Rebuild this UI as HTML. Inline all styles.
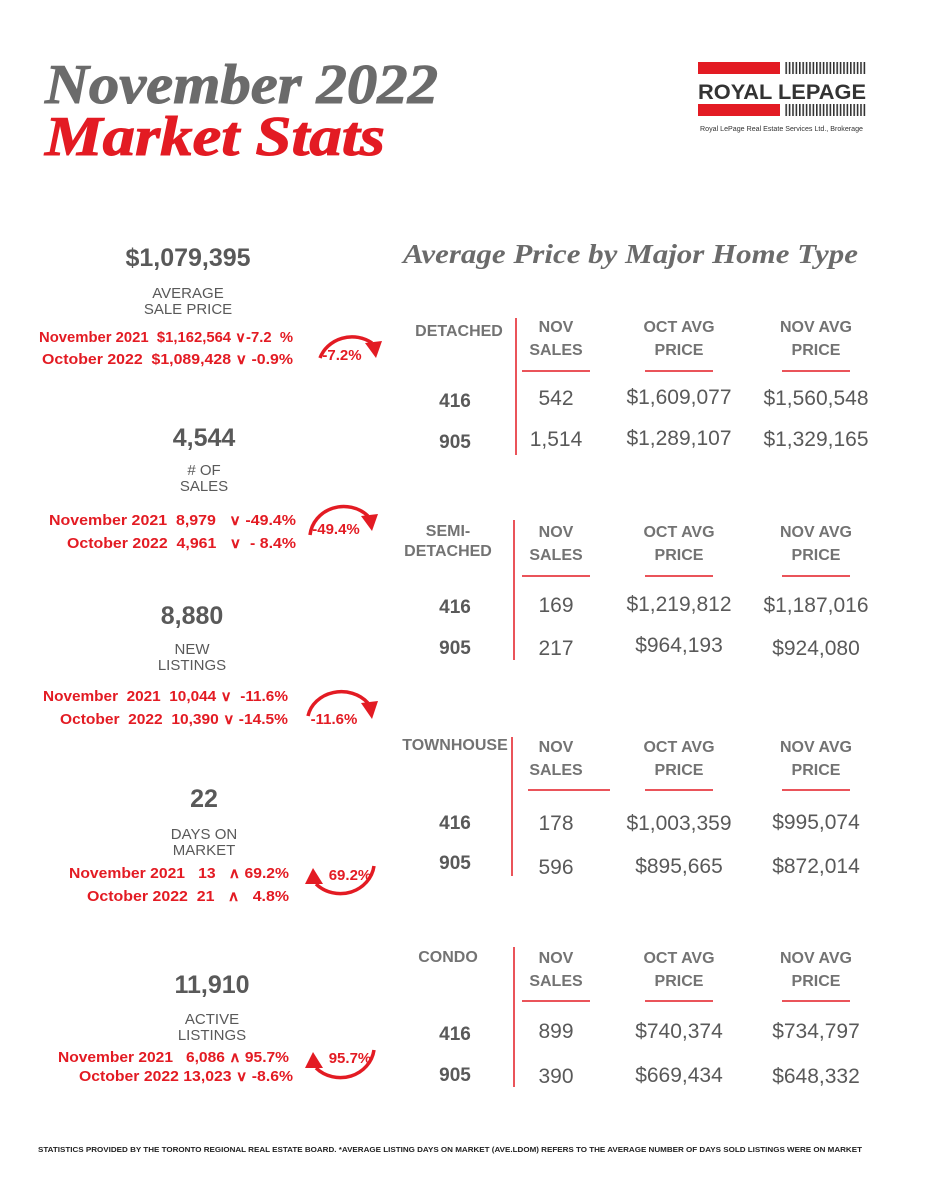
<!DOCTYPE html>
<html><head><meta charset="utf-8"><style>
html,body{margin:0;padding:0;background:#fff}
svg{display:block}
text{font-family:"Liberation Sans",sans-serif;white-space:pre}
.t{font-family:"Liberation Serif",serif;font-style:italic;font-weight:bold}
.big{font-size:25px;font-weight:bold;fill:#595959}
.lab{font-size:15px;fill:#595959}
.red{font-size:14.5px;font-weight:bold;fill:#e31b23}
.hd{font-size:16px;font-weight:bold;fill:#737373}
.rk{font-size:19px;font-weight:bold;fill:#595959}
.v{font-size:21px;fill:#595959}
.pc{font-size:15px;font-weight:bold;fill:#e31b23}
</style></head><body>
<svg width="927" height="1200" viewBox="0 0 927 1200" xml:space="preserve">
<rect width="927" height="1200" fill="#fff"/>
<text class="t" x="45" y="103" font-size="56" fill="#6b6b6b" textLength="393" lengthAdjust="spacingAndGlyphs" stroke="#6b6b6b" stroke-width="1">November 2022</text>
<text class="t" x="45" y="155" font-size="56" fill="#e31b23" textLength="340" lengthAdjust="spacingAndGlyphs" stroke="#e31b23" stroke-width="1">Market Stats</text>

<g>
<defs><pattern id="st" width="3.4" height="12" patternUnits="userSpaceOnUse"><rect width="1.6" height="12" fill="#333"/></pattern></defs>
<rect x="698" y="62" width="82" height="12" fill="#e31b23"/>
<rect x="698" y="104" width="82" height="12" fill="#e31b23"/>
<rect x="785" y="62" width="81" height="12" fill="url(#st)"/>
<rect x="785" y="104" width="81" height="12" fill="url(#st)"/>
<text x="698" y="99" font-size="21" font-weight="bold" fill="#333" textLength="168" lengthAdjust="spacingAndGlyphs">ROYAL LEPAGE</text>
<text x="700" y="131" font-size="7" fill="#333" textLength="163" lengthAdjust="spacingAndGlyphs">Royal LePage Real Estate Services Ltd., Brokerage</text>
</g>

<text class="t" x="403" y="263" font-size="27" fill="#6b6b6b" textLength="455" lengthAdjust="spacingAndGlyphs">Average Price by Major Home Type</text>

<g text-anchor="middle">
<text class="big" x="188" y="266">$1,079,395</text>
<text class="lab" x="188" y="298">AVERAGE</text>
<text class="lab" x="188" y="314">SALE PRICE</text>
<text class="big" x="204" y="446">4,544</text>
<text class="lab" x="204" y="475"># OF</text>
<text class="lab" x="204" y="491">SALES</text>
<text class="big" x="192" y="624">8,880</text>
<text class="lab" x="192" y="654">NEW</text>
<text class="lab" x="192" y="670">LISTINGS</text>
<text class="big" x="204" y="807">22</text>
<text class="lab" x="204" y="839">DAYS ON</text>
<text class="lab" x="204" y="855">MARKET</text>
<text class="big" x="212" y="993">11,910</text>
<text class="lab" x="212" y="1024">ACTIVE</text>
<text class="lab" x="212" y="1040">LISTINGS</text>
</g>
<g text-anchor="end">
<text class="red" x="293" y="342" textLength="254" lengthAdjust="spacingAndGlyphs">November 2021  $1,162,564 ∨-7.2  %</text>
<text class="red" x="293" y="364" textLength="251" lengthAdjust="spacingAndGlyphs">October 2022  $1,089,428 ∨ -0.9%</text>
<text class="red" x="296" y="525" textLength="247" lengthAdjust="spacingAndGlyphs">November 2021  8,979   ∨ -49.4%</text>
<text class="red" x="296" y="548" textLength="229" lengthAdjust="spacingAndGlyphs">October 2022  4,961   ∨  - 8.4%</text>
<text class="red" x="288" y="701" textLength="245" lengthAdjust="spacingAndGlyphs">November  2021  10,044 ∨  -11.6%</text>
<text class="red" x="288" y="724" textLength="228" lengthAdjust="spacingAndGlyphs">October  2022  10,390 ∨ -14.5%</text>
<text class="red" x="289" y="878" textLength="220" lengthAdjust="spacingAndGlyphs">November 2021   13   ∧ 69.2%</text>
<text class="red" x="289" y="901" textLength="202" lengthAdjust="spacingAndGlyphs">October 2022  21   ∧   4.8%</text>
<text class="red" x="289" y="1062" textLength="231" lengthAdjust="spacingAndGlyphs">November 2021   6,086 ∧ 95.7%</text>
<text class="red" x="293" y="1081" textLength="214" lengthAdjust="spacingAndGlyphs">October 2022 13,023 ∨ -8.6%</text>
</g>

<g fill="none" stroke="#e31b23" stroke-width="3.5">
<path d="M320,358 A34,32 0 0 1 372,343"/>
<path d="M310,535 A34,32 0 0 1 368,516"/>
<path d="M308,716 A34,30 0 0 1 368,703"/>
<path d="M374,866 A34,32 0 0 1 316,884"/>
<path d="M374,1050 A34,32 0 0 1 316,1068"/>
</g>
<g fill="#e31b23">
<polygon points="365,343 382,341 376,358"/>
<polygon points="361,516 378,514 372,531"/>
<polygon points="361,703 378,701 372,719"/>
<polygon points="305,884 323,884 313,868"/>
<polygon points="305,1068 323,1068 313,1052"/>
</g>
<g text-anchor="middle">
<text class="pc" x="342" y="360">-7.2%</text>
<text class="pc" x="336" y="534">-49.4%</text>
<text class="pc" x="334" y="724">-11.6%</text>
<text class="pc" x="350" y="880">69.2%</text>
<text class="pc" x="350" y="1063">95.7%</text>
</g>

<g text-anchor="middle">
<text class="hd" x="459" y="336">DETACHED</text>
<line x1="516" y1="318" x2="516" y2="455" stroke="#e31b23" stroke-width="1.5"/>
<text class="hd" x="556" y="332">NOV</text><text class="hd" x="556" y="355">SALES</text>
<text class="hd" x="679" y="332">OCT AVG</text><text class="hd" x="679" y="355">PRICE</text>
<text class="hd" x="816" y="332">NOV AVG</text><text class="hd" x="816" y="355">PRICE</text>
<line x1="522" y1="371" x2="590" y2="371" stroke="#e31b23" stroke-width="1.5"/>
<line x1="645" y1="371" x2="713" y2="371" stroke="#e31b23" stroke-width="1.5"/>
<line x1="782" y1="371" x2="850" y2="371" stroke="#e31b23" stroke-width="1.5"/>
<text class="rk" x="455" y="407">416</text><text class="v" x="556" y="405">542</text><text class="v" x="679" y="404">$1,609,077</text><text class="v" x="816" y="405">$1,560,548</text>
<text class="rk" x="455" y="448">905</text><text class="v" x="556" y="446">1,514</text><text class="v" x="679" y="445">$1,289,107</text><text class="v" x="816" y="446">$1,329,165</text>
<text class="hd" x="448" y="536">SEMI-</text><text class="hd" x="448" y="556">DETACHED</text>
<line x1="514" y1="520" x2="514" y2="660" stroke="#e31b23" stroke-width="1.5"/>
<text class="hd" x="556" y="537">NOV</text><text class="hd" x="556" y="560">SALES</text>
<text class="hd" x="679" y="537">OCT AVG</text><text class="hd" x="679" y="560">PRICE</text>
<text class="hd" x="816" y="537">NOV AVG</text><text class="hd" x="816" y="560">PRICE</text>
<line x1="522" y1="576" x2="590" y2="576" stroke="#e31b23" stroke-width="1.5"/>
<line x1="645" y1="576" x2="713" y2="576" stroke="#e31b23" stroke-width="1.5"/>
<line x1="782" y1="576" x2="850" y2="576" stroke="#e31b23" stroke-width="1.5"/>
<text class="rk" x="455" y="613">416</text><text class="v" x="556" y="612">169</text><text class="v" x="679" y="611">$1,219,812</text><text class="v" x="816" y="612">$1,187,016</text>
<text class="rk" x="455" y="654">905</text><text class="v" x="556" y="655">217</text><text class="v" x="679" y="652">$964,193</text><text class="v" x="816" y="655">$924,080</text>
<text class="hd" x="455" y="750">TOWNHOUSE</text>
<line x1="512" y1="737" x2="512" y2="876" stroke="#e31b23" stroke-width="1.5"/>
<text class="hd" x="556" y="752">NOV</text><text class="hd" x="556" y="775">SALES</text>
<text class="hd" x="679" y="752">OCT AVG</text><text class="hd" x="679" y="775">PRICE</text>
<text class="hd" x="816" y="752">NOV AVG</text><text class="hd" x="816" y="775">PRICE</text>
<line x1="528" y1="790" x2="610" y2="790" stroke="#e31b23" stroke-width="1.5"/>
<line x1="645" y1="790" x2="713" y2="790" stroke="#e31b23" stroke-width="1.5"/>
<line x1="782" y1="790" x2="850" y2="790" stroke="#e31b23" stroke-width="1.5"/>
<text class="rk" x="455" y="829">416</text><text class="v" x="556" y="830">178</text><text class="v" x="679" y="830">$1,003,359</text><text class="v" x="816" y="829">$995,074</text>
<text class="rk" x="455" y="869">905</text><text class="v" x="556" y="874">596</text><text class="v" x="679" y="873">$895,665</text><text class="v" x="816" y="873">$872,014</text>
<text class="hd" x="448" y="962">CONDO</text>
<line x1="514" y1="947" x2="514" y2="1087" stroke="#e31b23" stroke-width="1.5"/>
<text class="hd" x="556" y="963">NOV</text><text class="hd" x="556" y="986">SALES</text>
<text class="hd" x="679" y="963">OCT AVG</text><text class="hd" x="679" y="986">PRICE</text>
<text class="hd" x="816" y="963">NOV AVG</text><text class="hd" x="816" y="986">PRICE</text>
<line x1="522" y1="1001" x2="590" y2="1001" stroke="#e31b23" stroke-width="1.5"/>
<line x1="645" y1="1001" x2="713" y2="1001" stroke="#e31b23" stroke-width="1.5"/>
<line x1="782" y1="1001" x2="850" y2="1001" stroke="#e31b23" stroke-width="1.5"/>
<text class="rk" x="455" y="1040">416</text><text class="v" x="556" y="1038">899</text><text class="v" x="679" y="1038">$740,374</text><text class="v" x="816" y="1038">$734,797</text>
<text class="rk" x="455" y="1081">905</text><text class="v" x="556" y="1083">390</text><text class="v" x="679" y="1082">$669,434</text><text class="v" x="816" y="1083">$648,332</text>
</g>

<text x="38" y="1152" font-size="7.5" font-weight="bold" fill="#222" textLength="824" lengthAdjust="spacingAndGlyphs">STATISTICS PROVIDED BY THE TORONTO REGIONAL REAL ESTATE BOARD. *AVERAGE LISTING DAYS ON MARKET (AVE.LDOM) REFERS TO THE AVERAGE NUMBER OF DAYS SOLD LISTINGS WERE ON MARKET</text>
</svg>
</body></html>
